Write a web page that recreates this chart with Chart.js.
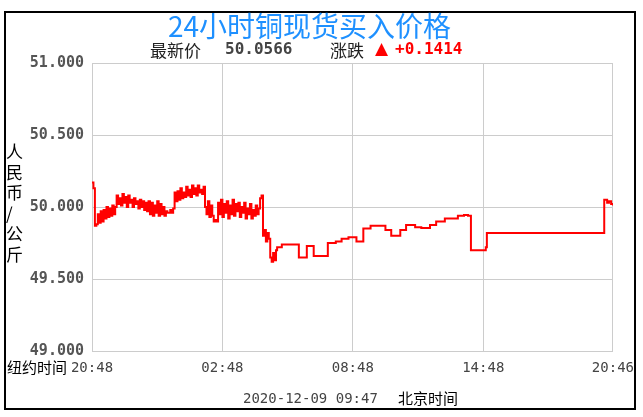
<!DOCTYPE html>
<html>
<head>
<meta charset="utf-8">
<script src="https://cdn.jsdelivr.net/npm/chart.js@4.4.0/dist/chart.umd.min.js"></script>
<style>
  body { margin: 0; background: #fff; width: 643px; height: 417px; position: relative; overflow: hidden; }
  #myChart { position: absolute; left: 0; top: 0; }
  .frame { position: absolute; left: 4px; top: 11px; width: 628px; height: 395px; border: 2px solid #000; z-index: 5; pointer-events: none; }
  .txt { position: absolute; white-space: pre; z-index: 6; }
  .cjk { font-family: "Noto Sans CJK SC", sans-serif; }
  .mono { font-family: "DejaVu Sans Mono", monospace; }
</style>
</head>
<body>
<canvas id="myChart" width="643" height="417"></canvas>
<div class="frame"></div>
<div class="txt cjk" style="left:168px; top:5px; font-size:28px; color:#1e90ff;">24小时铜现货买入价格</div>
<div class="txt cjk" style="left:150px; top:37px; font-size:17px; color:#222;">最新价</div>
<div class="txt mono" style="left:225px; top:39px; font-size:16px; font-weight:bold; color:#444;">50.0566</div>
<div class="txt cjk" style="left:330px; top:37px; font-size:17px; color:#222;">涨跌</div>
<div class="txt" style="left:375px; top:38px; font-family:'DejaVu Sans'; font-size:17px; color:#f00;">▲</div>
<div class="txt mono" style="left:395px; top:39px; font-size:16px; font-weight:bold; color:#f00;">+0.1414</div>
<div class="txt cjk" style="left:6px; top:141px; font-size:17px; line-height:20.5px; color:#000; white-space:normal; width:18px;">人<br>民<br>币<br>/<br>公<br>斤</div>
<div class="txt cjk" style="left:7px; top:356px; font-size:15px; color:#000;">纽约时间</div>
<div class="txt mono" style="left:243px; top:390px; font-size:14px; color:#444;">2020-12-09 09:47</div>
<div class="txt cjk" style="left:398px; top:387px; font-size:15px; color:#000;">北京时间</div>
<script>
let myChart;

// x axis: minutes since 20:48 (New York time)
const tickMinutes = [0, 360, 720, 1080, 1438];
const tickLabels = ['20:48', '02:48', '08:48', '14:48', '20:46'];

// noisy part of the session, one quote every 4 minutes from 20:48
const noisyStep = 4;
const noisyPrices = [
  50.17, 50.13,
  49.87, 49.88, 49.95, 49.89, 49.97, 49.90,
  49.98, 49.92, 50.00, 49.93, 49.99, 49.94, 50.01, 49.95, 50.00,
  50.08, 50.02, 50.06, 50.01, 50.09, 50.03, 50.07, 50.00, 50.08, 50.03, 50.05,
  50.00, 50.06, 50.02, 50.04, 49.99, 50.05, 50.00, 50.04, 49.98, 50.03,
  49.97, 50.04, 49.95, 50.03, 49.94, 50.01, 49.96, 50.04, 49.94, 50.02, 49.95, 50.00, 49.94, 49.97,
  49.96, 49.96, 49.98, 49.96, 49.99,
  50.10, 50.04, 50.11, 50.05, 50.13, 50.06, 50.10, 50.07, 50.14, 50.08, 50.12,
  50.07, 50.15, 50.09, 50.13, 50.08, 50.15, 50.10, 50.12, 50.09, 50.14,
  50.00, 49.95, 50.04, 49.93, 50.01, 49.94,
  49.90, 49.91, 49.90,
  50.03, 49.95, 50.05, 49.93, 50.02, 49.96, 50.04, 49.92, 50.01, 49.95, 50.05, 49.94,
  50.02, 49.97, 50.03, 49.93, 50.00, 49.96, 50.03, 49.92, 49.99, 49.95, 50.02, 49.92,
  49.98, 49.94, 50.01, 49.95, 49.99,
  50.06, 50.08,
  49.80, 49.84, 49.76, 49.82, 49.78,
  49.65, 49.62, 49.68, 49.63, 49.70
];

// quieter stepped part: minute of each change and the new price
const stepMinutes = [511, 524, 571, 593, 612, 651, 673, 689, 708, 730, 749, 769, 810, 826, 851, 867,
  892, 909, 933, 950, 974, 1010, 1027, 1038, 1046, 1087, 1090, 1414, 1422, 1427, 1433, 1438];
const stepPrices = [49.72, 49.74, 49.65, 49.73, 49.66, 49.75, 49.76, 49.78, 49.79, 49.76, 49.85, 49.87, 49.84, 49.80, 49.84, 49.875,
  49.86, 49.855, 49.875, 49.90, 49.92, 49.94, 49.945, 49.94, 49.70, 49.72, 49.82, 50.05, 50.03, 50.04, 50.02, 50.01];

const points = [];
noisyPrices.forEach((p, i) => points.push({ x: i * noisyStep, y: p }));
stepMinutes.forEach((m, i) => points.push({ x: m, y: stepPrices[i] }));

document.addEventListener('DOMContentLoaded', (event) => {
  const ctx = document.getElementById('myChart').getContext('2d');

  myChart = new Chart(ctx, {
    type: 'line',
    data: {
      datasets: [{
        data: points,
        borderColor: '#ff0000',
        borderWidth: 2,
        pointRadius: 0,
        stepped: true,
        fill: false
      }]
    },
    options: {
      responsive: false,
      animation: false,
      layout: { padding: { left: 0, top: 63, right: 27, bottom: 36 } },
      plugins: { legend: { display: false }, tooltip: { enabled: false } },
      scales: {
        x: {
          type: 'linear',
          min: 0,
          max: 1438,
          afterBuildTicks: (scale) => { scale.ticks = tickMinutes.map(v => ({ value: v })); },
          afterFit: (scale) => { scale.height = 30; },
          ticks: {
            autoSkip: false,
            maxRotation: 0,
            padding: 9,
            color: '#444',
            font: { family: 'DejaVu Sans Mono', size: 14 },
            callback: (v, i) => tickLabels[i]
          },
          grid: { color: '#cccccc', drawTicks: false },
          border: { color: '#cccccc' }
        },
        y: {
          min: 49,
          max: 51,
          afterFit: (scale) => { scale.width = 92; },
          ticks: {
            stepSize: 0.5,
            padding: 8,
            color: '#555',
            font: { family: 'DejaVu Sans Mono', size: 15, weight: 'bold' },
            callback: (v) => v.toFixed(3)
          },
          grid: { color: '#cccccc', drawTicks: false },
          border: { color: '#cccccc' }
        }
      }
    }
  });
});
</script>
</body>
</html>
